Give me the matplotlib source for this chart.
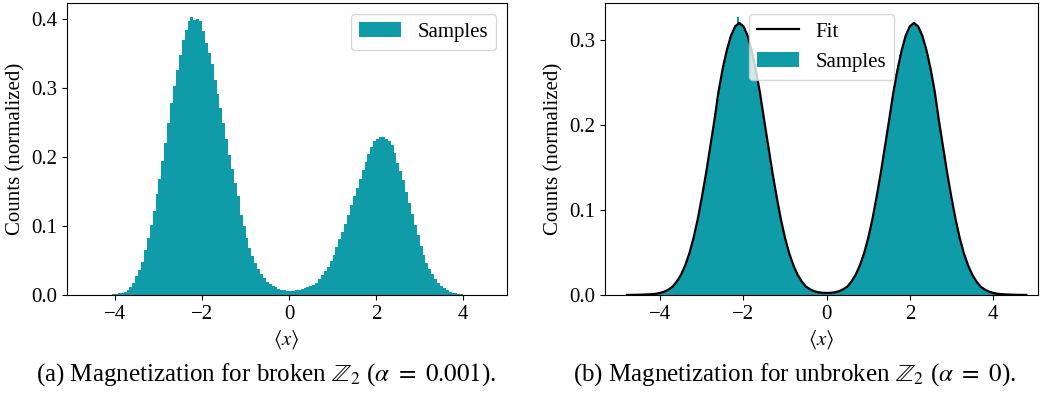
import numpy as np
import matplotlib
matplotlib.use("Agg")
import matplotlib.pyplot as plt

plt.rcParams['font.family'] = 'serif'
plt.rcParams['font.serif'] = ['Liberation Serif', 'DejaVu Serif']
plt.rcParams['mathtext.fontset'] = 'stix'
plt.rcParams['font.size'] = 15

TEAL = '#109ba8'

# (a) broken Z2: histogram bin edges and normalized counts
broken_edges = np.linspace(-4.2, 4.2, 127)
broken_counts = [
    0.0003, 0.0006, 0.0010, 0.0017, 0.0025, 0.0035, 0.0050, 0.0075, 0.0120, 0.0180,
    0.0270, 0.0370, 0.0480, 0.0650, 0.0830, 0.1020, 0.1220, 0.1460, 0.1680, 0.1940,
    0.2210, 0.2490, 0.2780, 0.3030, 0.3260, 0.3480, 0.3700, 0.3840, 0.3980, 0.4030,
    0.3990, 0.4010, 0.3970, 0.3830, 0.3660, 0.3510, 0.3350, 0.3120, 0.2920, 0.2720,
    0.2490, 0.2260, 0.2030, 0.1830, 0.1630, 0.1430, 0.1160, 0.1000, 0.0820, 0.0680,
    0.0560, 0.0460, 0.0380, 0.0310, 0.0240, 0.0190, 0.0160, 0.0130, 0.0110, 0.0093,
    0.0078, 0.0068, 0.0064, 0.0062, 0.0063, 0.0066, 0.0072, 0.0083, 0.0095, 0.0110,
    0.0128, 0.0150, 0.0180, 0.0230, 0.0290, 0.0350, 0.0410, 0.0500, 0.0580, 0.0690,
    0.0810, 0.0910, 0.1030, 0.1160, 0.1300, 0.1440, 0.1560, 0.1690, 0.1820, 0.1930,
    0.2040, 0.2150, 0.2230, 0.2270, 0.2290, 0.2300, 0.2270, 0.2240, 0.2170, 0.2060,
    0.1920, 0.1800, 0.1670, 0.1500, 0.1340, 0.1180, 0.1020, 0.0870, 0.0710, 0.0580,
    0.0470, 0.0380, 0.0300, 0.0230, 0.0170, 0.0130, 0.0095, 0.0068, 0.0046, 0.0033,
    0.0023, 0.0015, 0.0009, 0.0005, 0.0003, 0.0001,
]

# (b) unbroken Z2: histogram bin edges and normalized counts
unbroken_edges = np.linspace(-4.5, 4.5, 181)
unbroken_counts = [
    0.0002, 0.0003, 0.0004, 0.0005, 0.0007, 0.0009, 0.0011, 0.0013, 0.0017, 0.0022,
    0.0029, 0.0036, 0.0046, 0.0058, 0.0073, 0.0090, 0.0115, 0.0145, 0.0180, 0.0220,
    0.0270, 0.0320, 0.0380, 0.0450, 0.0530, 0.0620, 0.0720, 0.0830, 0.0950, 0.1080,
    0.1220, 0.1360, 0.1510, 0.1660, 0.1820, 0.1970, 0.2140, 0.2310, 0.2460, 0.2595,
    0.2710, 0.2820, 0.2920, 0.3005, 0.3080, 0.3135, 0.3170, 0.3270, 0.3195, 0.3170,
    0.3135, 0.3080, 0.3005, 0.2920, 0.2820, 0.2710, 0.2595, 0.2460, 0.2310, 0.2140,
    0.1970, 0.1820, 0.1660, 0.1510, 0.1360, 0.1220, 0.1080, 0.0950, 0.0830, 0.0720,
    0.0620, 0.0530, 0.0450, 0.0380, 0.0320, 0.0270, 0.0220, 0.0180, 0.0145, 0.0115,
    0.0090, 0.0074, 0.0060, 0.0048, 0.0039, 0.0033, 0.0028, 0.0025, 0.0023, 0.0022,
    0.0022, 0.0023, 0.0025, 0.0028, 0.0033, 0.0039, 0.0048, 0.0060, 0.0074, 0.0090,
    0.0115, 0.0145, 0.0180, 0.0220, 0.0270, 0.0320, 0.0380, 0.0450, 0.0530, 0.0620,
    0.0720, 0.0830, 0.0950, 0.1080, 0.1220, 0.1360, 0.1510, 0.1660, 0.1820, 0.1970,
    0.2140, 0.2310, 0.2460, 0.2595, 0.2710, 0.2820, 0.2920, 0.3005, 0.3080, 0.3135,
    0.3170, 0.3195, 0.3200, 0.3170, 0.3135, 0.3080, 0.3005, 0.2920, 0.2820, 0.2710,
    0.2595, 0.2460, 0.2310, 0.2140, 0.1970, 0.1820, 0.1660, 0.1510, 0.1360, 0.1220,
    0.1080, 0.0950, 0.0830, 0.0720, 0.0620, 0.0530, 0.0450, 0.0380, 0.0320, 0.0270,
    0.0220, 0.0180, 0.0145, 0.0115, 0.0090, 0.0073, 0.0058, 0.0046, 0.0036, 0.0029,
    0.0022, 0.0017, 0.0013, 0.0011, 0.0009, 0.0007, 0.0005, 0.0004, 0.0003, 0.0002,
]

# (b) fitted curve
fit_x = np.linspace(-4.8, 4.8, 97)
fit_y = [
    0.0001, 0.0001, 0.0002, 0.0003, 0.0005, 0.0007, 0.0010, 0.0015, 0.0025, 0.0040,
    0.0065, 0.0100, 0.0160, 0.0240, 0.0350, 0.0490, 0.0670, 0.0890, 0.1150, 0.1430,
    0.1740, 0.2050, 0.2390, 0.2660, 0.2880, 0.3050, 0.3160, 0.3200, 0.3160, 0.3050,
    0.2870, 0.2640, 0.2370, 0.2050, 0.1740, 0.1430, 0.1150, 0.0890, 0.0670, 0.0490,
    0.0350, 0.0240, 0.0160, 0.0100, 0.0068, 0.0045, 0.0032, 0.0026, 0.0024, 0.0026,
    0.0032, 0.0045, 0.0068, 0.0100, 0.0160, 0.0240, 0.0350, 0.0490, 0.0670, 0.0890,
    0.1150, 0.1430, 0.1740, 0.2050, 0.2370, 0.2640, 0.2870, 0.3050, 0.3160, 0.3200,
    0.3160, 0.3050, 0.2880, 0.2660, 0.2390, 0.2050, 0.1740, 0.1430, 0.1150, 0.0890,
    0.0670, 0.0490, 0.0350, 0.0240, 0.0160, 0.0100, 0.0065, 0.0040, 0.0025, 0.0015,
    0.0010, 0.0007, 0.0005, 0.0003, 0.0002, 0.0001, 0.0001,
]

captions = [
    r'(a) Magnetization for broken $\mathbb{Z}_2$ ($\alpha\ =\ 0.001$).',
    r'(b) Magnetization for unbroken $\mathbb{Z}_2$ ($\alpha\ =\ 0$).',
]

fig = plt.figure(figsize=(10.4, 4.0), dpi=100)
ax1 = fig.add_axes([0.0641, 0.2625, 0.4231, 0.729])
ax2 = fig.add_axes([0.5817, 0.2625, 0.4163, 0.729])

# left panel
centers = (broken_edges[:-1] + broken_edges[1:]) / 2
ax1.hist(centers, bins=broken_edges, weights=broken_counts, color=TEAL, label='Samples')
ax1.set_xlim(-5.11, 5.0)
ax1.set_ylim(0, 0.4232)
ax1.set_xticks([-4, -2, 0, 2, 4])
ax1.set_yticks([0.0, 0.1, 0.2, 0.3, 0.4])
ax1.set_xlabel(r'$\langle x \rangle$', labelpad=3)
ax1.set_ylabel('Counts (normalized)')
ax1.legend(loc='upper right')

# right panel
centers = (unbroken_edges[:-1] + unbroken_edges[1:]) / 2
ax2.hist(centers, bins=unbroken_edges, weights=unbroken_counts, color=TEAL, label='Samples')
ax2.plot(fit_x, fit_y, color='black', lw=1.6, label='Fit')
ax2.set_xlim(-5.33, 5.08)
ax2.set_ylim(0, 0.343)
ax2.set_xticks([-4, -2, 0, 2, 4])
ax2.set_yticks([0.0, 0.1, 0.2, 0.3])
ax2.set_xlabel(r'$\langle x \rangle$', labelpad=3)
ax2.set_ylabel('Counts (normalized)')
handles, labels = ax2.get_legend_handles_labels()
ax2.legend(handles[::-1], labels[::-1], loc='upper center')

fig.text(266 / 1040, 1 - 375 / 400, captions[0], ha='center', va='center', fontsize=18)
fig.text(795 / 1040, 1 - 375 / 400, captions[1], ha='center', va='center', fontsize=18)

fig.savefig('out.png', dpi=100)
